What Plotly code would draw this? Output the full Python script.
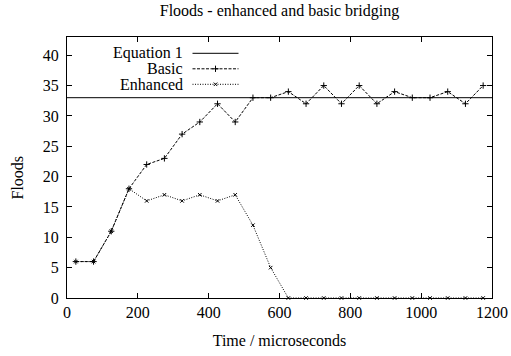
import plotly.graph_objects as go

time_us = [25, 75, 125, 175, 225, 275, 325, 375, 425, 475, 525, 575,
           625, 675, 725, 775, 825, 875, 925, 975, 1025, 1075, 1125, 1175]
basic = [6, 6, 11, 18, 22, 23, 27, 29, 32, 29, 33, 33,
         34, 32, 35, 32, 35, 32, 34, 33, 33, 34, 32, 35]
enhanced = [6, 6, 11, 18, 16, 17, 16, 17, 16, 17, 12, 5,
            0, 0, 0, 0, 0, 0, 0, 0, 0, 0, 0, 0]
eq_x = [0, 1200]
eq_y = [33, 33]

FONT = "Liberation Serif"
FS = 16
BASIC_DASH = "3px,1.5px"
ENH_DASH = "1px,1.5px"
PLUS_SIZE = 4.5
X_SIZE = 3.5

fig = go.Figure()
fig.add_trace(go.Scatter(x=eq_x, y=eq_y, mode="lines", name="Equation 1",
                         line=dict(color="black", width=1), showlegend=False))
fig.add_trace(go.Scatter(x=time_us, y=basic, mode="lines+markers", name="Basic",
                         line=dict(color="black", width=1, dash=BASIC_DASH),
                         marker=dict(symbol="cross-thin", size=PLUS_SIZE,
                                     line=dict(color="black", width=1)),
                         showlegend=False))
fig.add_trace(go.Scatter(x=time_us, y=enhanced, mode="lines+markers", name="Enhanced",
                         line=dict(color="black", width=1, dash=ENH_DASH),
                         marker=dict(symbol="x-thin", size=X_SIZE,
                                     line=dict(color="black", width=1)),
                         showlegend=False, cliponaxis=False))

L, R, T, B = 67, 492, 37, 298
def px(xp):
    return (xp - L) / (R - L)
def py(yp):
    return (B - yp) / (B - T)

# gnuplot-style key: label right-aligned, then sample
labels = ["Equation 1", "Basic", "Enhanced"]
dashes = ["solid", BASIC_DASH, ENH_DASH]
symbols = [None, "cross-thin", "x-thin"]
key_y = [py(53.3), py(68.8), py(84.3)]
x_text = px(184)
x0 = px(192.5)
x1 = px(238.5)
for lab, d, s, ky in zip(labels, dashes, symbols, key_y):
    fig.add_annotation(x=x_text, y=ky, xref="paper", yref="paper", text=lab,
                       showarrow=False, xanchor="right", yanchor="middle",
                       borderpad=0,
                       font=dict(family=FONT, size=FS, color="black"))
    fig.add_shape(type="line", xref="paper", yref="paper", x0=x0, x1=x1,
                  y0=ky, y1=ky, line=dict(color="black", width=1, dash=d))
    if s:
        fig.add_trace(go.Scatter(x=[(x0 + x1) / 2], y=[ky], xaxis="x2", yaxis="y2",
                                 mode="markers", showlegend=False, hoverinfo="skip",
                                 marker=dict(symbol=s,
                                             size=PLUS_SIZE if s == "cross-thin" else X_SIZE,
                                             line=dict(color="black", width=1))))

# y-axis title (gnuplot places it slightly below the plot centre)
fig.add_annotation(x=px(16.5), y=py(178), xref="paper", yref="paper", text="Floods",
                   textangle=-90, showarrow=False, xanchor="center", yanchor="middle",
                   font=dict(family=FONT, size=FS, color="black"))

axis_common = dict(showgrid=False, zeroline=False, showline=True, linecolor="black",
                   linewidth=1, mirror="ticks", ticks="inside", ticklen=5,
                   tickcolor="black", tickwidth=1, automargin=False,
                   tickfont=dict(family=FONT, size=FS, color="black"))

fig.update_layout(
    width=511, height=356,
    margin=dict(l=L, r=511 - R, t=T, b=356 - B),
    paper_bgcolor="white", plot_bgcolor="white",
    title=dict(text="Floods - enhanced and basic bridging", x=0.5, xanchor="center",
               xref="paper", y=1 - 10 / 356, yanchor="middle",
               font=dict(family=FONT, size=FS, color="black")),
    xaxis=dict(range=[0, 1200], dtick=200, tick0=0,
               title=dict(text="Time / microseconds", standoff=14,
                          font=dict(family=FONT, size=FS, color="black")),
               **axis_common),
    yaxis=dict(range=[0, 43], dtick=5, tick0=0, ticklabelstandoff=4, **axis_common),
    xaxis2=dict(range=[0, 1], overlaying="x", visible=False),
    yaxis2=dict(range=[0, 1], overlaying="y", visible=False),
    showlegend=False,
)

fig.write_html("out.html", config={"displayModeBar": False},
               post_script="document.body.style.margin='0';")
